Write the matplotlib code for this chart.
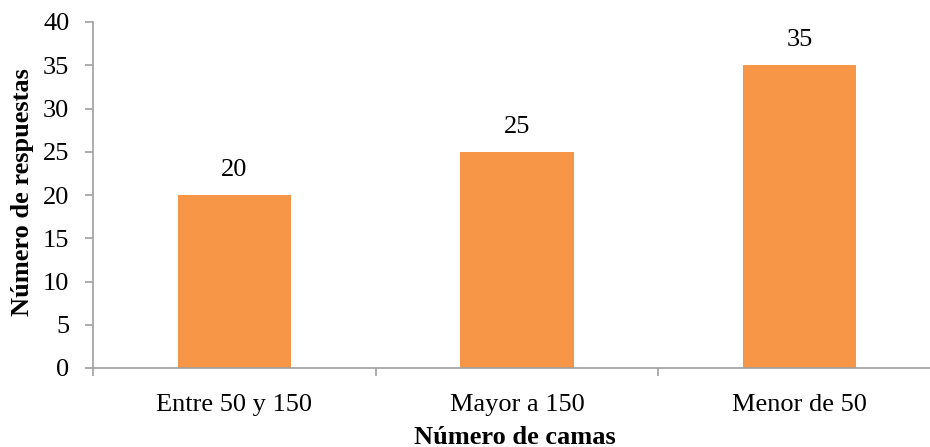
import matplotlib
matplotlib.use("Agg")
import matplotlib.pyplot as plt
from matplotlib.ticker import FixedLocator, MultipleLocator

categories = ["Entre 50 y 150", "Mayor a 150", "Menor de 50"]
values = [20, 25, 35]

plt.rcParams["font.family"] = ["Liberation Serif", "DejaVu Serif"]

W, H = 930, 447
fig = plt.figure(figsize=(W / 100, H / 100), dpi=100)
left, right, top, bottom = 93, 941, 22, 368
ax = fig.add_axes([left / W, 1 - bottom / H, (right - left) / W, (bottom - top) / H])

x = range(len(categories))
ax.bar(x, values, width=0.4, color="#F79646", zorder=2)
for xi, v in zip(x, values):
    ax.text(xi, v + 1.6, f"{v}", ha="center", va="bottom", fontsize=19)

ax.set_xlim(-0.5, len(categories) - 0.5)
ax.set_ylim(0, 40)
ax.yaxis.set_major_locator(MultipleLocator(5))
ax.set_xticks(list(x))
ax.set_xticklabels(categories, fontsize=19)
ax.xaxis.set_minor_locator(FixedLocator([-0.5, 0.5, 1.5, 2.5]))
ax.tick_params(axis="x", which="major", length=0, pad=19)
ax.tick_params(axis="x", which="minor", length=6, width=1.2, color="#A0A0A0")
ax.tick_params(axis="y", length=6, width=1.2, color="#A0A0A0", labelsize=19, pad=11)

for s in ["top", "right"]:
    ax.spines[s].set_visible(False)
for s in ["left", "bottom"]:
    ax.spines[s].set_color("#A0A0A0")
    ax.spines[s].set_linewidth(1.2)

fig.text(22 / W, 1 - 192 / H, "Número de respuestas", rotation=90,
         ha="center", va="center", fontsize=19, fontweight="bold")
fig.text(515 / W, 1 - 437 / H, "Número de camas",
         ha="center", va="center", fontsize=19, fontweight="bold")

fig.savefig("out.png", dpi=100)
